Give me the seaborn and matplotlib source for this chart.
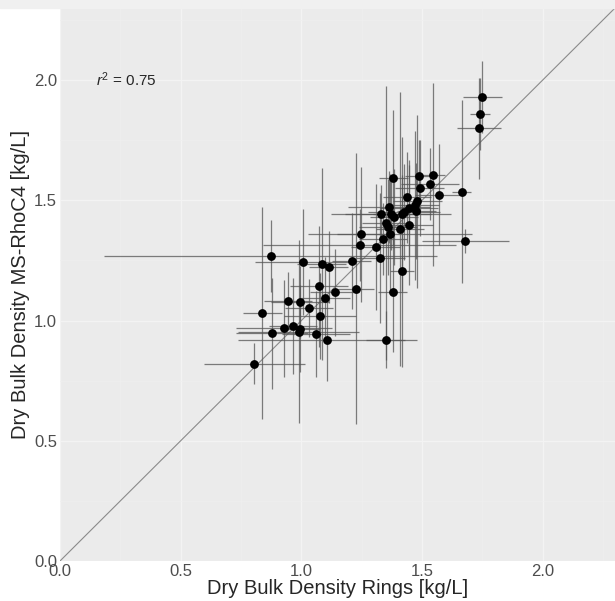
import pandas as pd
import matplotlib.pyplot as plt
import seaborn as sns
from matplotlib.patches import Rectangle

# Dry bulk density: rings (x) vs MS-RhoC4 (y), with uncertainties
rings = [0.806, 0.838, 0.873, 0.878, 0.929, 0.945, 0.965, 0.993, 0.989, 0.996,
         1.007, 1.033, 1.062, 1.075, 1.078, 1.084, 1.100, 1.108, 1.113, 1.138,
         1.209, 1.228, 1.242, 1.248, 1.308, 1.328, 1.330, 1.339, 1.350, 1.350,
         1.361, 1.362, 1.368, 1.372, 1.379, 1.382, 1.383, 1.408, 1.418, 1.419,
         1.425, 1.438, 1.445, 1.448, 1.470, 1.477, 1.481, 1.488, 1.490, 1.532,
         1.545, 1.570, 1.664, 1.680, 1.737, 1.740, 1.750]
msrho = [0.820, 1.032, 1.268, 0.947, 0.967, 1.082, 0.976, 1.078, 0.954, 0.966,
         1.244, 1.053, 0.945, 1.142, 1.019, 1.234, 1.093, 0.918, 1.223, 1.117,
         1.248, 1.133, 1.315, 1.358, 1.306, 1.260, 1.445, 1.340, 1.405, 0.921,
         1.389, 1.472, 1.360, 1.444, 1.120, 1.595, 1.432, 1.382, 1.443, 1.206,
         1.451, 1.513, 1.398, 1.468, 1.480, 1.455, 1.497, 1.603, 1.550, 1.568,
         1.607, 1.524, 1.536, 1.332, 1.800, 1.860, 1.930]
rings_err = [0.21, 0.08, 0.69, 0.15, 0.20, 0.10, 0.10, 0.12, 0.25, 0.08,
             0.20, 0.10, 0.14, 0.12, 0.15, 0.10, 0.10, 0.37, 0.08, 0.10,
             0.08, 0.075, 0.40, 0.10, 0.10, 0.10, 0.15, 0.10, 0.10, 0.08,
             0.12, 0.17, 0.34, 0.25, 0.06, 0.06, 0.10, 0.10, 0.12, 0.05,
             0.15, 0.10, 0.10, 0.12, 0.10, 0.08, 0.10, 0.06, 0.10, 0.12,
             0.05, 0.10, 0.04, 0.18, 0.09, 0.04, 0.08]
msrho_err = [0.085, 0.44, 0.15, 0.23, 0.20, 0.12, 0.20, 0.15, 0.38, 0.18,
             0.22, 0.12, 0.18, 0.25, 0.18, 0.40, 0.17, 0.17, 0.15, 0.18,
             0.20, 0.565, 0.15, 0.28, 0.26, 0.27, 0.12, 0.15, 0.57, 0.12,
             0.20, 0.15, 0.25, 0.15, 0.25, 0.28, 0.20, 0.57, 0.32, 0.40,
             0.20, 0.19, 0.25, 0.20, 0.31, 0.20, 0.36, 0.15, 0.20, 0.15,
             0.38, 0.21, 0.38, 0.05, 0.21, 0.15, 0.15]

df = pd.DataFrame({'rings': rings, 'msrho': msrho,
                   'rings_err': rings_err, 'msrho_err': msrho_err})

sns.set_theme(style='darkgrid')
plt.rcParams['font.family'] = ['Liberation Sans', 'DejaVu Sans']
plt.rcParams['mathtext.fontset'] = 'custom'
plt.rcParams['mathtext.rm'] = 'Liberation Sans'
plt.rcParams['mathtext.it'] = 'Liberation Sans:italic'

fig = plt.figure(figsize=(6.15, 6.01), dpi=100)
fig.patches.append(Rectangle((0, 1 - 8 / 601), 1, 8 / 601, transform=fig.transFigure,
                             color='#f0f0f0', zorder=0))
ax = fig.add_axes([60 / 615, 40 / 601, 555 / 615, 553 / 601])
ax.set_facecolor('#ebebeb')

# 1:1 line
ax.plot([0, 2.4], [0, 2.4], color='#8a8a8a', lw=0.8, zorder=1)

# error bars
ax.errorbar(df['rings'], df['msrho'], xerr=df['rings_err'], yerr=df['msrho_err'],
            fmt='none', ecolor='#555555', elinewidth=0.9, alpha=0.75, capsize=0, zorder=2)

sns.scatterplot(data=df, x='rings', y='msrho', color='black', s=40,
                edgecolor='black', linewidth=0, ax=ax, zorder=3)

ax.text(0.149, 2.0, r'$r^2$ = 0.75', fontsize=11, va='center', ha='left')

ax.set_xlim(0, 2.3)
ax.set_ylim(0, 2.3)
ax.set_xticks([0.0, 0.5, 1.0, 1.5, 2.0])
ax.set_yticks([0.0, 0.5, 1.0, 1.5, 2.0])
ax.set_xticks([0.25, 0.75, 1.25, 1.75, 2.25], minor=True)
ax.set_yticks([0.25, 0.75, 1.25, 1.75, 2.25], minor=True)
ax.grid(True, which='major', color='#f3f3f3', lw=0.9)
ax.grid(True, which='minor', color='#efefef', lw=0.5)
ax.tick_params(axis='both', which='both', length=0, labelsize=12,
               labelcolor='#4d4d4d', pad=2)
for s in ax.spines.values():
    s.set_visible(False)

ax.set_xlabel('Dry Bulk Density Rings [kg/L]', fontsize=14.5, labelpad=0)
ax.set_ylabel('Dry Bulk Density MS-RhoC4 [kg/L]', fontsize=14.5, labelpad=3)

fig.savefig('out.png', dpi=100)
